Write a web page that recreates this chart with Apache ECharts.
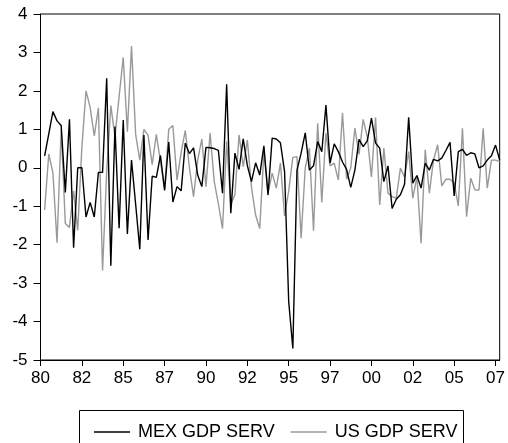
<!DOCTYPE html>
<html>
<head>
<meta charset="utf-8">
<script src="https://cdn.jsdelivr.net/npm/echarts@6/dist/echarts.min.js"></script>
<style>
html,body{margin:0;padding:0;background:#fff;}
#c{width:508px;height:443px;}
</style>
</head>
<body>
<div id="c"></div>
<script>
// Quarterly observations, 1980Q2 .. 2007Q4 (index 1 = 1980Q2, quarters since 1980Q1)
const startIndex = 1;
const mexGdpServ = [
  0.31,0.88,1.46,1.22,1.10,-0.64,1.26,-2.08,0.0,0.0,
  -1.28,-0.9,-1.28,-0.12,-0.12,2.33,-2.55,1.07,-1.57,1.24,
  -1.72,0.2,-0.95,-2.12,0.85,-1.88,-0.22,-0.25,0.32,-0.59,
  0.67,-0.89,-0.49,-0.6,0.64,0.37,0.52,-0.19,-0.49,0.53,
  0.52,0.5,0.45,-0.66,2.17,-1.18,0.38,-0.04,0.75,0.06,
  -0.36,0.13,-0.19,0.57,-0.71,0.77,0.75,0.65,-0.1,-3.48,
  -4.7,-0.06,0.38,0.91,-0.06,0.05,0.68,0.42,1.63,0.12,
  0.62,0.42,0.15,-0.04,-0.51,-0.06,0.74,0.55,0.7,1.29,
  0.64,0.51,-0.36,0.05,-1.06,-0.82,-0.7,-0.43,1.31,-0.4,
  -0.2,-0.53,0.12,-0.06,0.22,0.18,0.25,0.45,0.66,-0.73,
  0.42,0.48,0.32,0.39,0.36,0.0,0.05,0.2,0.31,0.59,0.2
];
const usGdpServ = [
  -1.1,0.36,-0.13,-1.95,1.0,-1.45,-1.55,-0.6,-1.63,0.53,
  2.0,1.57,0.83,1.56,-2.67,-0.1,1.62,0.81,1.85,2.87,
  0.94,3.17,0.87,0.2,1.0,0.85,0.08,0.87,0.16,-0.55,
  1.0,1.1,-0.32,0.4,0.97,0.0,-0.75,0.2,0.75,-0.49,
  0.9,-0.36,-0.94,-1.58,0.68,-0.95,-0.7,0.86,0.03,0.72,
  -0.5,-1.23,-1.58,0.4,-0.66,-0.14,-0.53,0.12,-1.25,-0.6,
  0.27,0.29,-1.83,0.0,0.51,-1.64,1.16,-0.9,0.9,0.05,
  0.12,-0.32,1.43,-0.3,0.0,1.03,0.35,1.26,0.8,-0.24,
  1.31,-0.97,0.51,-0.66,-0.75,-0.79,-0.01,-0.24,0.42,-0.79,
  -0.23,-1.96,0.47,-0.66,0.2,0.6,-0.47,-0.3,-0.3,-0.4,
  -0.99,1.03,-1.27,-0.27,-0.57,-0.58,1.03,-0.53,0.2,0.2,0.16
];
const xTickValues = [0,10,20,30,40,50,60,70,80,90,100,110];
const xTickLabels = ['80','82','85','87','90','92','95','97','00','02','05','07'];
const yTickLabels = ['-5','-4','-3','-2','-1','0','1','2','3','4'];
const seriesNames = ['MEX GDP SERV','US GDP SERV'];

const toPairs = arr => arr.map((v,i)=>[startIndex+i, v]);
const FONT = 'Liberation Sans, Arial, Helvetica, sans-serif';

const chart = echarts.init(document.getElementById('c'), null, {renderer:'canvas'});
chart.setOption({
  animation:false,
  backgroundColor:'#fff',
  grid:{left:40.5, right:5, top:14, bottom:83, show:true, borderColor:'#000', borderWidth:1, backgroundColor:'transparent'},
  xAxis:{
    type:'value', min:0, max:111, interval:10,
    axisLine:{show:true, onZero:false, lineStyle:{color:'#000', width:1}},
    axisTick:{show:true, inside:false, length:6, customValues:xTickValues, lineStyle:{color:'#000'}},
    axisLabel:{customValues:xTickValues, margin:10, color:'#000', fontSize:17, fontFamily:FONT,
      formatter:v=>{const k=xTickValues.indexOf(v); return k>=0?xTickLabels[k]:'';}},
    splitLine:{show:false}
  },
  yAxis:{
    type:'value', min:-5, max:4, interval:1,
    axisLine:{show:true, onZero:false, lineStyle:{color:'#000', width:1}},
    axisTick:{show:true, inside:false, length:7, lineStyle:{color:'#000'}},
    axisLabel:{margin:13, color:'#000', fontSize:17, fontFamily:FONT,
      formatter:v=>yTickLabels[Math.round(v)+5]},
    splitLine:{show:false}
  },
  legend:{
    left:89, top:418, itemWidth:36, itemHeight:1.5, itemGap:16, icon:'rect',
    textStyle:{fontSize:18, fontFamily:FONT, color:'#000', padding:[0,0,0,3]},
    data:seriesNames
  },
  graphic:[{type:'rect', silent:true, shape:{x:79.5, y:410.5, width:384, height:40},
    style:{fill:'none', stroke:'#000', lineWidth:1}}],
  series:[
    {name:seriesNames[0], type:'line', data:toPairs(mexGdpServ), showSymbol:false, symbol:'none',
     lineStyle:{color:'#000', width:1.4}, itemStyle:{color:'#000'}, z:3},
    {name:seriesNames[1], type:'line', data:toPairs(usGdpServ), showSymbol:false, symbol:'none',
     lineStyle:{color:'#999', width:1.4}, itemStyle:{color:'#999'}, z:2}
  ]
});
</script>
</body>
</html>
